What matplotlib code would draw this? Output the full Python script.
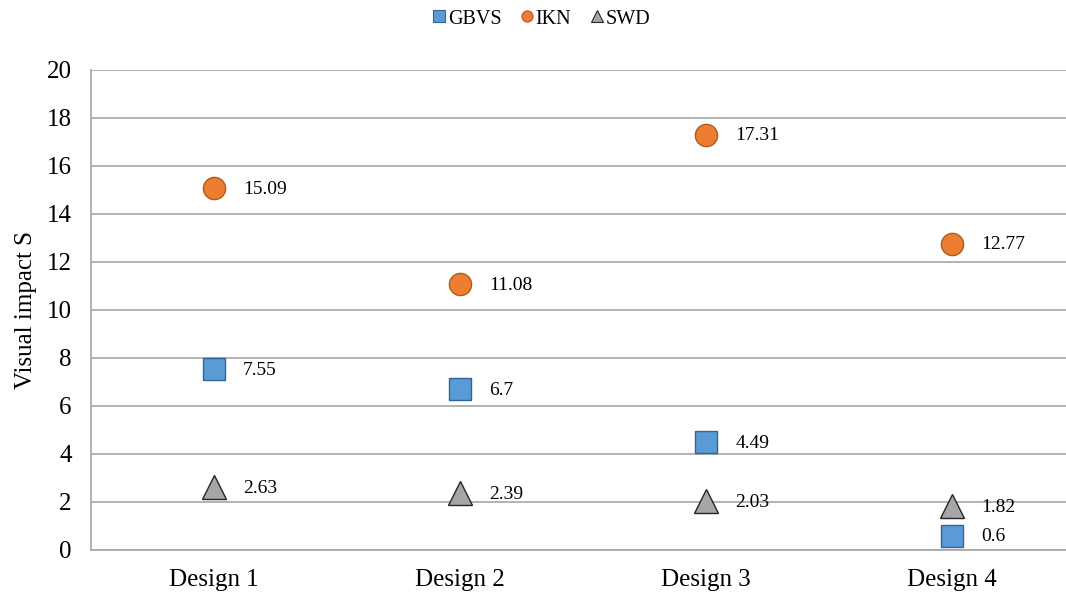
import matplotlib
matplotlib.use("Agg")
import matplotlib.pyplot as plt
from matplotlib.lines import Line2D

categories = ["Design 1", "Design 2", "Design 3", "Design 4"]
gbvs = [7.55, 6.7, 4.49, 0.6]
ikn = [15.09, 11.08, 17.31, 12.77]
swd = [2.63, 2.39, 2.03, 1.82]
y_ticks = [0, 2, 4, 6, 8, 10, 12, 14, 16, 18, 20]

plt.rcParams["font.family"] = ["Liberation Serif", "DejaVu Serif"]

W, H = 1066, 598
fig = plt.figure(figsize=(W / 100, H / 100), dpi=100)
left, right, top, bottom = 91, 1075, 70, 550
ax = fig.add_axes([left / W, (H - bottom) / H, (right - left) / W, (bottom - top) / H])

x = [i + 0.5 for i in range(len(categories))]
ax.set_xlim(0, len(categories))
ax.set_ylim(0, 20)

grid_c = "#a6a6a6"
ax.set_yticks(y_ticks)
ax.yaxis.grid(True, color=grid_c, linewidth=1.2)
ax.set_axisbelow(True)
for s in ["top", "right"]:
    ax.spines[s].set_visible(False)
for s in ["left", "bottom"]:
    ax.spines[s].set_color(grid_c)
    ax.spines[s].set_linewidth(1.2)
ax.tick_params(axis="both", length=0, labelsize=18, pad=14)
ax.set_xticks(x)
ax.set_xticklabels(categories)
ax.tick_params(axis="x", pad=14)
ax.set_ylabel("Visual impact S", fontsize=18, labelpad=7)

series = [
    (gbvs, "s", "#5b9bd5", "#2f6597", 16, "GBVS"),
    (ikn, "o", "#ed7d31", "#b35a1b", 16, "IKN"),
    (swd, "^", "#a6a6a6", "#262626", 17, "SWD"),
]
handles = []
for vals, mk, fc, ec, ms, name in series:
    ax.plot(x, vals, linestyle="none", marker=mk, markersize=ms,
            markerfacecolor=fc, markeredgecolor=ec, markeredgewidth=1.0,
            clip_on=False, zorder=3)
    for xi, v in zip(x, vals):
        ax.annotate(f"{v:g}", (xi, v), xytext=(21, -1), textcoords="offset points",
                    va="center", ha="left", fontsize=14)
    handles.append(Line2D([], [], linestyle="none", marker=mk, markersize=8,
                          markerfacecolor=fc, markeredgecolor=ec,
                          markeredgewidth=0.8, label=name))

fig.legend(handles=handles, loc="center", bbox_to_anchor=(541 / W, 1 - 19 / H),
           ncol=3, frameon=False, fontsize=14.5, handletextpad=0.1,
           columnspacing=0.9, handlelength=0.7)

fig.savefig("out.png", dpi=100)
